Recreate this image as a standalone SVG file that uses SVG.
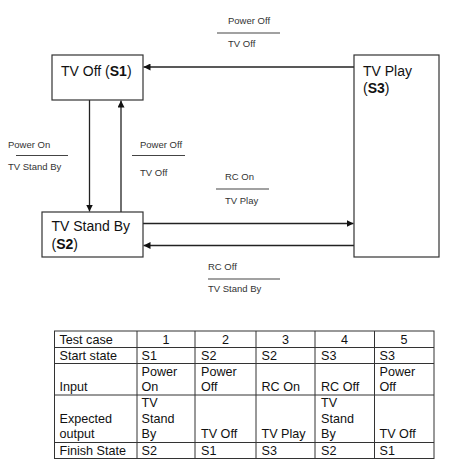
<svg xmlns="http://www.w3.org/2000/svg" width="461" height="463" viewBox="0 0 461 463">
<style>
.box{fill:#fff;stroke:#333;stroke-width:1.2}
.st{font-family:"Liberation Sans",Arial,sans-serif;font-size:14px;fill:#111}
.lb{font-family:"Liberation Sans",Arial,sans-serif;font-size:9.5px;fill:#333}
.ul{stroke:#444;stroke-width:1.2}
.cn{stroke:#222;stroke-width:1.3;fill:none;marker-end:url(#ah)}
.tb{font-family:"Liberation Sans",Arial,sans-serif;font-size:12.6px;fill:#111}
.tl{stroke:#333;stroke-width:1;fill:none}
</style>
<defs>
<marker id="ah" viewBox="0 0 10 10" refX="10" refY="5" markerWidth="7" markerHeight="7" markerUnits="userSpaceOnUse" orient="auto">
<path d="M0,0 L10,5 L0,10 z" fill="#111"/>
</marker>
</defs>
<rect width="461" height="463" fill="#fff"/>
<g id="connectors">
<line class="cn" x1="354" y1="67" x2="143.5" y2="67"/>
<line class="cn" x1="89.5" y1="100" x2="89.5" y2="211.5"/>
<line class="cn" x1="121" y1="212" x2="121" y2="100.5"/>
<line class="cn" x1="143" y1="223.5" x2="353.5" y2="223.5"/>
<line class="cn" x1="354" y1="245.5" x2="143.5" y2="245.5"/>
</g>
<g id="labels">
<text class="lb" x="228" y="24">Power Off</text>
<line class="ul" x1="217" y1="33" x2="280" y2="33"/>
<text class="lb" x="228" y="47">TV Off</text>
<text class="lb" x="8" y="148">Power On</text>
<line class="ul" x1="16" y1="155.5" x2="68" y2="155.5"/>
<text class="lb" x="8" y="170">TV Stand By</text>
<text class="lb" x="140" y="148">Power Off</text>
<line class="ul" x1="132" y1="155.5" x2="185" y2="155.5"/>
<text class="lb" x="140" y="176">TV Off</text>
<text class="lb" x="225" y="180">RC On</text>
<line class="ul" x1="216" y1="189" x2="269" y2="189"/>
<text class="lb" x="225" y="204">TV Play</text>
<text class="lb" x="208" y="270">RC Off</text>
<line class="ul" x1="208" y1="279" x2="280" y2="279"/>
<text class="lb" x="208" y="292">TV Stand By</text>
</g>
<g id="s1">
<rect class="box" x="52" y="55" width="91" height="45"/>
<text class="st" x="61" y="76">TV Off (<tspan font-weight="bold">S1</tspan>)</text>
</g>
<g id="s2">
<rect class="box" x="42" y="212" width="101" height="45"/>
<text class="st" x="51.5" y="231">TV Stand By</text>
<text class="st" x="51.5" y="248.5">(<tspan font-weight="bold">S2</tspan>)</text>
</g>
<g id="s3">
<rect class="box" x="354" y="55" width="85" height="202"/>
<text class="st" x="363" y="75.5">TV Play</text>
<text class="st" x="363" y="93">(<tspan font-weight="bold">S3</tspan>)</text>
</g>
<g id="table">
<rect class="tl" x="54.5" y="331" width="379.5" height="127.5" stroke-width="1.3"/>
<path class="tl" d="M137,331V458.5M195,331V458.5M256,331V458.5M315,331V458.5M374.5,331V458.5M54.5,347.5H434M54.5,363.5H434M54.5,395H434M54.5,442.5H434"/>
<text class="tb" x="59.5" y="344">Test case</text>
<text class="tb" x="166" y="344" text-anchor="middle">1</text>
<text class="tb" x="225.5" y="344" text-anchor="middle">2</text>
<text class="tb" x="285.5" y="344" text-anchor="middle">3</text>
<text class="tb" x="344.5" y="344" text-anchor="middle">4</text>
<text class="tb" x="404" y="344" text-anchor="middle">5</text>
<text class="tb" x="59.5" y="360">Start state</text>
<text class="tb" x="141.5" y="360">S1</text>
<text class="tb" x="201" y="360">S2</text>
<text class="tb" x="261.5" y="360">S2</text>
<text class="tb" x="321" y="360">S3</text>
<text class="tb" x="379.5" y="360">S3</text>
<text class="tb" x="59.5" y="391">Input</text>
<text class="tb" x="141.5" y="375.5">Power</text>
<text class="tb" x="141.5" y="391">On</text>
<text class="tb" x="201" y="375.5">Power</text>
<text class="tb" x="201" y="391">Off</text>
<text class="tb" x="261.5" y="391">RC On</text>
<text class="tb" x="321" y="391">RC Off</text>
<text class="tb" x="379.5" y="375.5">Power</text>
<text class="tb" x="379.5" y="391">Off</text>
<text class="tb" x="59.5" y="422.5">Expected</text>
<text class="tb" x="59.5" y="438">output</text>
<text class="tb" x="141.5" y="406.5">TV</text>
<text class="tb" x="141.5" y="422.5">Stand</text>
<text class="tb" x="141.5" y="438">By</text>
<text class="tb" x="201" y="438">TV Off</text>
<text class="tb" x="261.5" y="438">TV Play</text>
<text class="tb" x="321" y="406.5">TV</text>
<text class="tb" x="321" y="422.5">Stand</text>
<text class="tb" x="321" y="438">By</text>
<text class="tb" x="379.5" y="438">TV Off</text>
<text class="tb" x="59.5" y="454.5">Finish State</text>
<text class="tb" x="141.5" y="454.5">S2</text>
<text class="tb" x="201" y="454.5">S1</text>
<text class="tb" x="261.5" y="454.5">S3</text>
<text class="tb" x="321" y="454.5">S2</text>
<text class="tb" x="379.5" y="454.5">S1</text>
</g>
</svg>
